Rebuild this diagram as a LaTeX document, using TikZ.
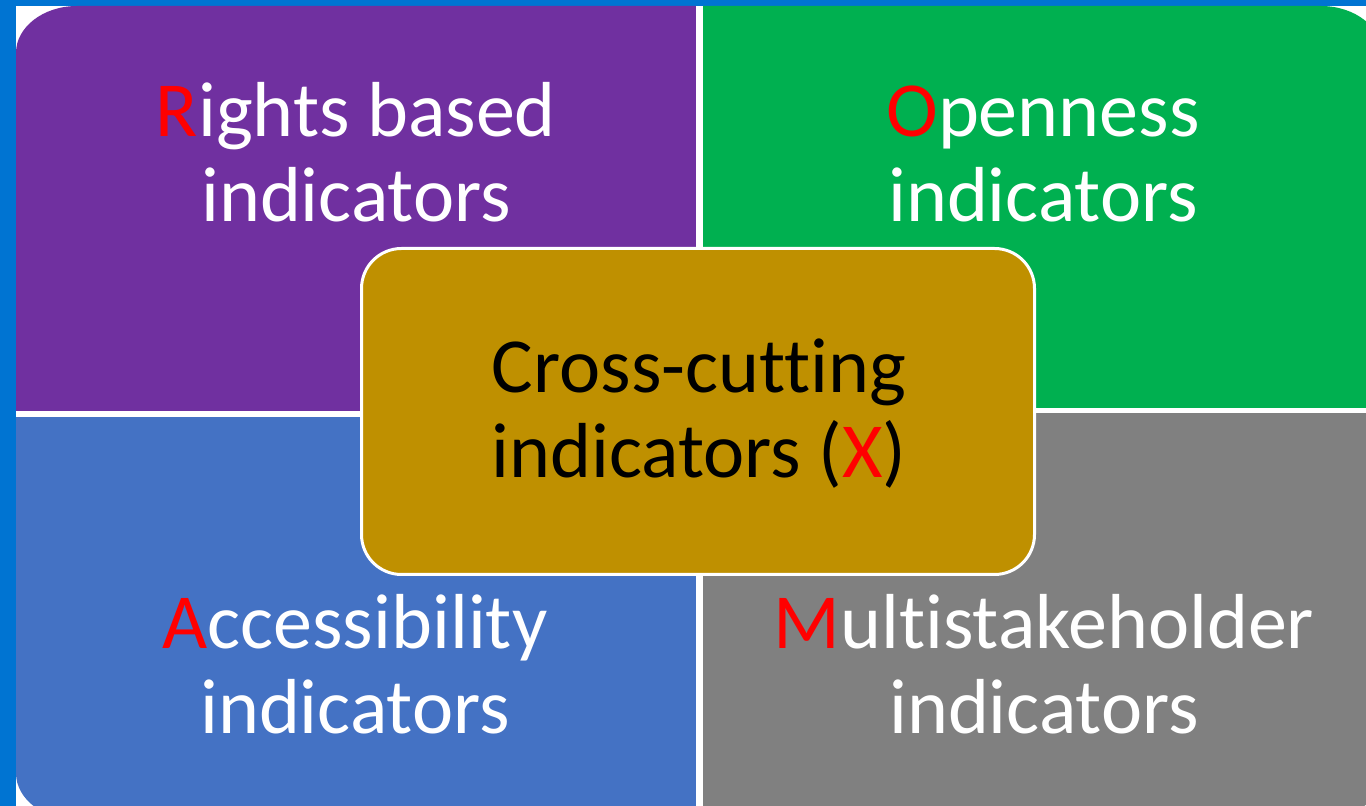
\documentclass[tikz,border=0pt]{standalone}
\usepackage{fontspec}
\setmainfont{Carlito}[Ligatures=NoCommon]
\definecolor{bgblue}{RGB}{0,116,210}
\definecolor{qpurple}{RGB}{112,48,160}
\definecolor{qgreen}{RGB}{0,176,80}
\definecolor{qblue}{RGB}{68,114,196}
\definecolor{qgray}{RGB}{128,128,128}
\definecolor{qgold}{RGB}{191,144,0}
\definecolor{qred}{RGB}{255,0,0}
\tikzset{
  lbl/.style={anchor=base, align=center, text=white, inner sep=0pt, font=\fontsize{78}{85}\selectfont},
  clbl/.style={lbl, text=black},
  centerbox/.style={fill=qgold, draw=white, line width=3pt, rounded corners=40pt}
}
\begin{document}
\begin{tikzpicture}[x=1pt,y=1pt]
\useasboundingbox (0,0) rectangle (1366,806);
\fill[bgblue] (0,0) rectangle (1366,806);
\fill[white] (16,0) rectangle (1366,800);
\begin{scope}
\clip (0,0) rectangle (1366,806);
\clip (77,800) -- (1321,800)
  arc[start angle=90, end angle=0, x radius=61pt, y radius=47pt]
  -- (1382,33)
  arc[start angle=0, end angle=-90, x radius=61pt, y radius=47pt]
  -- (77,-14)
  arc[start angle=270, end angle=180, x radius=61pt, y radius=47pt]
  -- (16,753)
  arc[start angle=180, end angle=90, x radius=61pt, y radius=47pt]
  -- cycle;
\fill[qpurple] (0,395) rectangle (696,820);
\fill[qblue] (0,-30) rectangle (696,389);
\fill[qgreen] (703,398) rectangle (1400,820);
\fill[qgray] (703,-30) rectangle (1400,393);
\end{scope}
\node[lbl] (rights) at (356,584) {\textcolor{qred}{R}ights based\\indicators};
\node[lbl] (open) at (1043,584) {\textcolor{qred}{O}penness\\indicators};
\node[lbl] (access) at (355,72) {\textcolor{qred}{A}ccessibility\\indicators};
\node[lbl] (multi) at (1044,72) {\textcolor{qred}{M}ultistakeholder\\indicators};
\path[centerbox] (361.5,231.5) rectangle (1034.5,557.5);
\node[clbl] (cross) at (699,328) {Cross-cutting\\indicators (\textcolor{qred}{X})};
\end{tikzpicture}
\end{document}
